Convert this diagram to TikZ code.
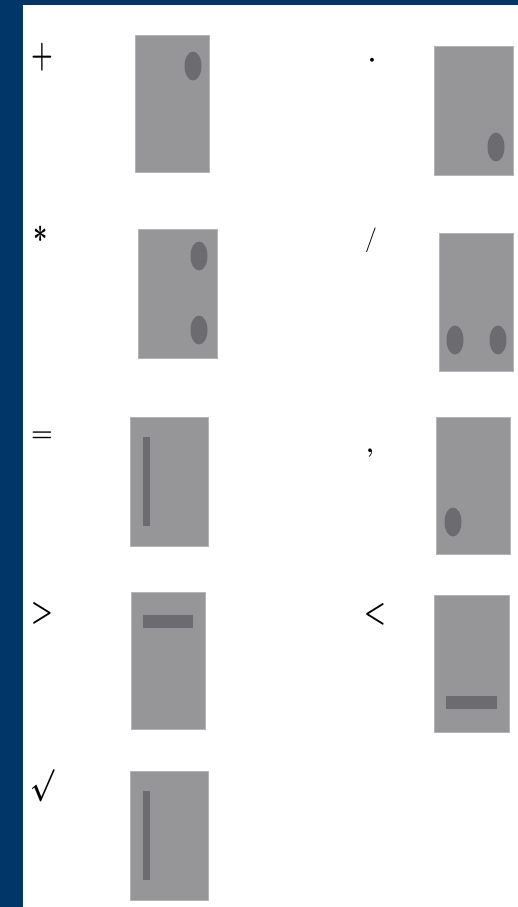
\documentclass[tikz,border=0pt]{standalone}
\usepackage{amssymb}
\definecolor{slideblue}{RGB}{0,54,104}
\definecolor{cardgray}{RGB}{150,150,152}
\definecolor{markgray}{RGB}{108,108,112}
\tikzset{
  card/.style={fill=cardgray, draw=cardgray!70!white, line width=0.8pt},
  spot/.style={fill=markgray},
  sym/.style={inner sep=0pt, font=\fontsize{25}{28}\selectfont\bfseries\boldmath}
}
\begin{document}
\begin{tikzpicture}[x=1pt, y=-1pt]
    \useasboundingbox (0,0) rectangle (518,907);
    \fill[white] (0,0) rectangle (518,907);
    % Frame
    \fill[slideblue] (0,0) rectangle (23,907);
    \fill[slideblue] (0,0) rectangle (518,5);
    % Row 1
    \node[sym, yscale=1.5] (plus) at (42,57) {$+$};
    \draw[card] (135.5,35) rectangle (209.5,172);
    \fill[spot] (193,66) ellipse (8.5pt and 14.5pt);
    \node[sym] (dot) at (372,61) {$\cdot$};
    \draw[card] (434.5,46) rectangle (513,175);
    \fill[spot] (496,147) ellipse (8.5pt and 14.5pt);
    % Row 2
    \node[sym, yscale=1.4] (star) at (41,234) {$*$};
    \draw[card] (138.5,229) rectangle (217,358);
    \fill[spot] (199,256) ellipse (8.5pt and 14.5pt);
    \fill[spot] (199,330) ellipse (8.5pt and 14.5pt);
    \node[sym, font=\fontsize{25}{28}\selectfont] (slash) at (371,240) {$/$};
    \draw[card] (439,233) rectangle (513,371);
    \fill[spot] (455,340) ellipse (8.5pt and 14.5pt);
    \fill[spot] (498,340) ellipse (8.5pt and 14.5pt);
    % Row 3
    \node[sym] (equal) at (42,437) {$=$};
    \draw[card] (130,417) rectangle (208,546);
    \fill[spot] (143,437) rectangle (150,526);
    \node[sym] (comma) at (370,453) {,};
    \draw[card] (436,417) rectangle (510,554);
    \fill[spot] (453,522) ellipse (8.5pt and 14.5pt);
    % Row 4
    \node[sym, yscale=1.3] (greater) at (42,613) {$>$};
    \draw[card] (131,592) rectangle (205,729);
    \fill[spot] (143,615) rectangle (193,628);
    \node[sym, yscale=1.3] (less) at (375,614) {$<$};
    \draw[card] (434.5,595) rectangle (509,732);
    \fill[spot] (446,696) rectangle (497,709);
    % Row 5
    \node[sym, yscale=1.3] (root) at (42,786) {$\surd$};
    \draw[card] (130,771) rectangle (208,900);
    \fill[spot] (143,791) rectangle (150,880);
\end{tikzpicture}
\end{document}
